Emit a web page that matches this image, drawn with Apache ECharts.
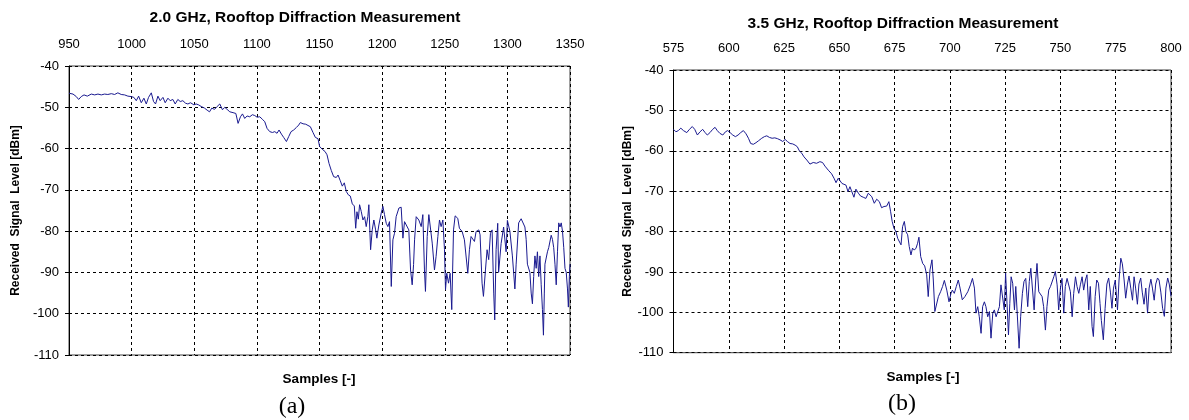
<!DOCTYPE html>
<html>
<head>
<meta charset="utf-8">
<script src="https://cdn.jsdelivr.net/npm/echarts@6/dist/echarts.min.js"></script>
<style>
  html, body { margin: 0; padding: 0; background: #fff; }
  #chart { width: 1189px; height: 420px; }
</style>
</head>
<body>
<div id="chart"></div>
<script>
  // (a) 2.0 GHz: sample index / received level in dBm
  var sampA = [
    950, 953.2, 955.8, 957.7, 959.8, 962, 964.6, 967.8, 970.5, 973.1, 975.8, 978.4, 981, 983.8, 986.4, 989,
    991.7, 994.4, 997, 999.7, 1001.8, 1003.7, 1005.6, 1007.7, 1009.8, 1011.7, 1013.5, 1015.7, 1017.5, 1019.1,
    1021, 1022.8, 1025, 1026.8, 1029, 1030.8, 1032.9, 1034.8, 1036.9, 1038.8, 1040.9, 1043, 1044.9, 1047,
    1049.7, 1051.5, 1053.4, 1055.5, 1058.2, 1060.3, 1062.2, 1064, 1066.2, 1068.3,
    1070.4, 1072.5, 1074.4, 1076.2, 1078.4, 1081, 1083.2, 1085, 1086.9, 1088.5, 1090.3, 1092.2, 1094.3, 1096.4,
    1098.3, 1100.2, 1102.3, 1104.4, 1106.3, 1108.1, 1110.3, 1112.4, 1114.3, 1116.1, 1117.7, 1119.6, 1121.4,
    1123.6, 1125.4, 1127.3, 1129.4, 1131.5, 1133.4, 1134.7, 1136.9, 1139, 1140.8, 1142.7, 1144.8, 1146.7,
    1148.8, 1150.1, 1152.3, 1154.4, 1156, 1157.6, 1159.4, 1161.3, 1163.4, 1164.8, 1166.6, 1168.2, 1169.8,
    1171.4, 1173, 1174.6, 1176.2, 1177.8, 1178.9, 1179.9, 1181,
    1182, 1183.3, 1184.7, 1186, 1187.3, 1188.6, 1189.4, 1190.8, 1192.1, 1193.4, 1194.8, 1195.8, 1197.4, 1199.3,
    1200.6, 1201.9, 1203.3, 1204.6, 1205.9, 1207.3, 1208.6, 1209.9, 1211.2, 1213.4, 1215.2, 1216.6, 1217.9,
    1219.2, 1221.3, 1222.7, 1224, 1225.1, 1225.9, 1227.2, 1229.3, 1231.2, 1232.5, 1233.8, 1234.6, 1236, 1237.3,
    1238.4, 1240, 1241.8, 1243.1, 1244.5, 1245.8, 1247.1, 1248.5, 1249.8, 1250.6, 1251.6, 1253, 1254.3, 1255.6,
    1257, 1258.3, 1260.4, 1261.7, 1263.9, 1265.7, 1267.1, 1268.4, 1269.7, 1271, 1273.7, 1275, 1277.2, 1278.2,
    1279.8, 1280.9, 1282.5, 1283.8, 1285.1, 1286.5, 1287.8, 1289.1, 1289.9, 1291, 1292.3,
    1293, 1295, 1297, 1299, 1300, 1302, 1304, 1305, 1306, 1307, 1309, 1311, 1312, 1314, 1315, 1316, 1318, 1319,
    1320, 1321, 1322, 1323, 1324, 1325, 1326, 1327, 1328, 1328.8, 1329.5, 1330, 1332, 1333, 1335, 1336, 1337,
    1338, 1339, 1340, 1341, 1342, 1343, 1344, 1345, 1346, 1347, 1348, 1348.7, 1349.5, 1350
  ];
  var levelA = [
    -46.6, -46.8, -47.4, -48.1, -47.4, -47.0, -47.3, -46.8, -47.0, -46.8, -47.0, -46.8, -46.9, -46.7, -46.9, -46.5,
    -46.9, -47.0, -47.3, -47.4, -47.6, -48.4, -47.3, -48.9, -47.8, -49.2, -47.6, -46.5, -48.6, -49.2,
    -47.3, -48.4, -47.6, -48.9, -47.8, -48.4, -48.1, -49.2, -48.1, -48.6, -48.4, -49.0, -49.2, -48.9,
    -49.4, -49.2, -49.4, -49.8, -50.2, -50.7, -51.1, -50.2, -50.5, -49.8,
    -49.2, -50.6, -50.0, -50.5, -51.1, -51.3, -51.5, -53.9, -52.3, -51.6, -52.7, -52.1, -52.3, -51.8,
    -52.0, -52.4, -52.3, -52.9, -53.5, -55.1, -55.9, -56.1, -55.9, -56.3, -55.5, -56.5, -57.3,
    -58.3, -57.1, -55.9, -55.5, -54.9, -54.3, -53.7, -54.0, -54.1, -54.4, -54.7, -56.1, -57.3,
    -57.6, -59.5, -60.2, -60.7, -61.5, -63.6, -65.3, -66.8, -67.0, -66.4, -67.8, -69.1, -68.3,
    -70.4, -71.2, -71.5, -73.4, -73.9, -79.3, -75.3, -77.1,
    -73.6, -75.2, -77.3, -76.5, -78.9, -76.5, -73.6, -84.5, -79.7, -77.3, -79.7, -81.7, -78.5, -75.6,
    -74.0, -76.0, -78.1, -78.9, -77.7, -93.4, -82.1, -80.5, -76.5, -74.4, -74.2, -81.7, -77.7,
    -77.3, -79.7, -89.4, -93.0, -88.1, -82.1, -76.5, -77.3, -78.9, -76.0, -89.4, -94.6, -81.3, -76.0,
    -75.6, -82.9, -89.4, -86.1, -81.3, -77.3, -78.9, -77.3, -84.5, -94.2, -90.2, -92.6, -90.2, -99.0,
    -79.7, -76.3, -76.9, -79.3, -80.1, -82.1, -82.1, -90.2, -84.5, -81.3, -82.5, -80.1, -79.7, -80.9,
    -92.6, -95.8, -89.4, -84.5, -86.9, -80.5, -79.7, -95.0, -101.5, -84.5, -78.1,
    -90, -83, -79, -85, -77.4, -80, -86, -90, -94, -88, -78, -77, -76.8, -79, -82, -88, -90, -95,
    -97.6, -91, -86, -89, -85, -91, -86, -93, -99, -105.2, -95, -88, -85, -84, -81, -82, -84,
    -88, -93, -85, -78, -79, -78, -80, -84, -89, -90, -94, -98.4, -91, -88
  ];

  // (b) 3.5 GHz
  var sampB = [
    575, 576.1, 577.2, 578.3, 579.5, 581, 582.2, 583.5, 584.6, 585.8, 587, 588.2, 589.3, 590.3, 591.5, 592.7,
    593.8, 594.8, 596, 597.3, 598.5, 599.5, 600.6, 601.8, 603, 604.2, 605.4, 606.6, 607.8, 608.9, 609.9, 611.1,
    612.3, 613.5, 614.9, 616.1, 617.2, 618.4, 619.6, 620.8, 622, 623.2, 624.4, 625.5, 626.5, 627.7, 628.9, 630,
    631, 631.9, 633, 634, 635.3,
    636.7, 638.2, 639.7, 641.2, 642.4, 643.5, 645, 646.5, 647.6, 648.5, 649.5, 650.3, 651.2, 652.1, 653, 653.9,
    654.8, 655.7, 656.6, 657.5, 658.6, 659.6, 660.8, 662, 663.1, 663.8, 664.7, 665.8, 666.9, 668.1, 669.1, 670.2,
    671.4, 672.4, 673.2, 673.9, 674.7, 675.6, 676.4, 677.1, 677.9, 678.6, 679.4, 680.1, 680.9, 681.6, 682.4,
    683.1, 683.9, 684.7, 685.4, 686, 686.8, 687.7, 688.6, 689.5, 690.2, 691, 691.9, 692.5, 693.2, 694, 694.8,
    695.8, 696.7, 697.5,
    698.6, 699.6, 700.5, 701.1, 702, 702.9, 703.8, 704.6, 705.6, 706.8, 708.1, 709.3, 710.2, 711.1, 711.8,
    712.6, 713.3, 714.1, 714.8, 715.6, 716.3, 717.1, 717.9, 718.6, 719.4, 720.1, 720.9, 721.6, 722.4, 723.1,
    723.9, 724.6, 725.2, 726, 726.5, 727.1, 727.7, 728.4, 729.2, 729.8, 730.5, 731.3, 732, 732.8, 733.5, 734.3,
    735.2, 735.9, 736.6, 737.3, 738.1, 738.8, 739.4, 740.2, 740.9, 741.7, 742.4, 743.2, 743.9, 744.7, 745.5,
    746.2, 747, 747.7, 748.5, 749.2, 750, 750.7, 751.5, 752.2, 753, 753.7, 754.5, 755.3, 756, 756.8, 757.5,
    758.3, 759, 759.8, 760.5, 761.3, 762, 762.8, 763.5, 764.3, 764.9, 765.7, 766.4, 767.2, 767.9,
    768.5, 769.4, 770.2, 771, 771.8, 772.6, 773.3, 774, 774.8, 775.8, 776.5, 777.3, 778, 778.8, 779.5, 780.3,
    781, 781.8, 782.6, 783.3, 784, 784.8, 785.5, 786.3, 787, 787.8, 788.6, 789.4, 790.1, 790.9, 791.6, 792.4,
    793.1, 793.9, 794.6, 795.4, 796.2, 797, 797.7, 798.5, 799.2, 800
  ];
  var levelB = [
    -54.7, -55.3, -55.0, -54.4, -55.0, -55.5, -54.7, -54.0, -54.7, -56.1, -55.3, -54.7, -55.5, -56.1, -55.5, -54.7,
    -54.2, -55.0, -55.7, -56.1, -55.3, -55.0, -55.5, -56.1, -56.5, -56.1, -55.5, -55.0, -55.8, -56.9, -58.2, -58.4,
    -58.0, -57.5, -56.9, -56.5, -56.3, -56.7, -56.9, -56.8, -57.0, -57.3, -57.7, -57.2, -57.7, -58.2, -58.3, -58.6,
    -59.0, -60.0, -60.6, -61.5, -62.3,
    -63.3, -62.9, -63.1, -62.7, -62.9, -63.8, -64.8, -65.7, -66.8, -67.9, -66.8, -66.4, -68.1, -67.9, -68.5, -70.1,
    -68.9, -68.5, -71.5, -69.5, -70.5, -71.2, -71.5, -71.8, -70.5, -70.2, -71.4, -73.0, -72.0, -72.6, -74.1, -73.8,
    -73.7, -72.6, -75.1, -77.5, -79.2, -80.0, -81.7, -82.1, -83.3, -78.8, -77.5, -80.0, -80.8, -83.7, -85.8,
    -84.1, -84.6, -84.1, -82.9, -81.4, -86.2, -87.9, -88.5, -90.7, -96.1, -89.5, -87.0, -92.0, -99.8, -99.8, -96.1,
    -94.9, -93.6, -92.1,
    -94.5, -97.4, -95.3, -94.5, -95.3, -93.6, -92.0, -94.0, -96.9, -96.1, -94.9, -93.2, -91.6, -94.0, -100.2,
    -98.6, -101.1, -105.2, -98.6, -97.4, -98.6, -101.1, -99.8, -106.4, -100.2, -99.4, -101.1, -101.5, -98.6, -93.2,
    -93.6, -99.4, -90.3, -90.7, -105.6, -97.8, -91.2, -92.8, -99.4, -93.6, -93.6, -108.9, -101.1, -95.3, -92.4, -91.6,
    -98.6, -92.4, -89.1, -89.5, -99.4, -92.0, -87.9, -94.9, -95.3, -96.1, -98.6, -104.4, -98.6, -94.5, -93.6,
    -94.0, -91.2, -89.9, -93.2, -99.4, -94.0, -91.6, -100.2, -93.6, -91.6, -91.2, -94.9, -101.1, -95.3, -91.2, -93.6,
    -95.3, -93.2, -91.2, -94.5, -92.0, -90.7, -99.4, -93.6, -103.5, -106.0, -96.1, -92.0, -92.8, -97.8,
    -102, -106.8, -99, -93, -91.5, -95, -99, -94, -92, -99.4, -92, -86.6, -88, -92, -96.5, -93,
    -91, -94, -97, -91.2, -94, -98, -93, -91.5, -95, -98, -94, -100.2, -94, -91.8, -94, -97,
    -93, -91.5, -92, -95, -99, -101, -94, -91.5, -93, -96
  ];

  var lineColor = '#1a1a90';
  var font = 'Liberation Sans, Arial, sans-serif';

  function pairs(xs, ys) {
    return xs.map(function (x, i) { return [x, ys[i]]; });
  }

  function xAxisCfg(idx, min, max, step, margin) {
    return {
      gridIndex: idx,
      type: 'value',
      position: 'top',
      min: min,
      max: max,
      interval: step,
      axisLine: { show: false },
      axisTick: { show: false },
      axisLabel: {
        margin: margin, color: '#000', fontSize: 13, fontFamily: font,
        formatter: function (v) { return String(v); }
      },
      splitLine: { show: true, lineStyle: { color: '#000', width: 1, type: [3, 3] } }
    };
  }

  function yAxisCfg(idx, gap) {
    return {
      gridIndex: idx,
      type: 'value',
      min: -110,
      max: -40,
      interval: 10,
      name: 'Received  Signal  Level [dBm]',
      nameLocation: 'middle',
      nameGap: gap,
      nameTextStyle: { color: '#000', fontSize: 12, fontWeight: 'bold', fontFamily: font },
      axisLine: { show: true, lineStyle: { color: '#000', width: 1 } },
      axisTick: { show: true, length: 4, lineStyle: { color: '#000' } },
      axisLabel: { margin: 10, color: '#000', fontSize: 13, fontFamily: font },
      splitLine: { show: true, lineStyle: { color: '#000', width: 1, type: [3, 3] } }
    };
  }

  function label(text, x, y, f) {
    return {
      type: 'text',
      x: x,
      y: y,
      style: { text: text, font: f, fill: '#000', textAlign: 'center', textVerticalAlign: 'middle' }
    };
  }

  var myChart = echarts.init(document.getElementById('chart'));
  var option = {
    backgroundColor: '#fff',
    animation: false,
    grid: [
      { left: 69, top: 66, width: 501, height: 289, show: true, borderColor: '#404040', borderWidth: 1 },
      { left: 673.5, top: 70, width: 497.5, height: 282.7, show: true, borderColor: '#404040', borderWidth: 1 }
    ],
    xAxis: [
      xAxisCfg(0, 950, 1350, 50, 15),
      xAxisCfg(1, 575, 800, 25, 15)
    ],
    yAxis: [
      yAxisCfg(0, 47),
      yAxisCfg(1, 37)
    ],
    graphic: [
      label('2.0 GHz, Rooftop Diffraction Measurement', 305, 18, 'bold 15.5px ' + font),
      label('3.5 GHz, Rooftop Diffraction Measurement', 903, 24, 'bold 15.5px ' + font),
      label('Samples [-]', 319, 379, 'bold 13.5px ' + font),
      label('Samples [-]', 923, 377, 'bold 13.5px ' + font),
      label('(a)', 292, 407, '24px Liberation Serif, Times New Roman, serif'),
      label('(b)', 902, 404, '24px Liberation Serif, Times New Roman, serif')
    ],
    series: [
      {
        name: '2.0 GHz',
        type: 'line',
        xAxisIndex: 0,
        yAxisIndex: 0,
        showSymbol: false,
        lineStyle: { color: lineColor, width: 1 },
        data: pairs(sampA, levelA)
      },
      {
        name: '3.5 GHz',
        type: 'line',
        xAxisIndex: 1,
        yAxisIndex: 1,
        showSymbol: false,
        lineStyle: { color: lineColor, width: 1 },
        data: pairs(sampB, levelB)
      }
    ]
  };
  myChart.setOption(option, true);
</script>
</body>
</html>
